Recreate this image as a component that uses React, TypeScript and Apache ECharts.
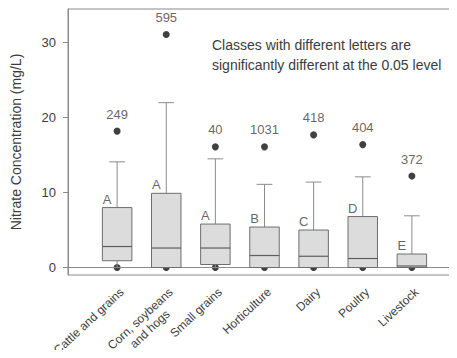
import { useEffect, useRef } from "react";
import * as echarts from "echarts";

// Land-use classes and their nitrate distribution summaries (mg/L)
const categories = [
  "Cattle and grains",
  "Corn, soybeans\nand hogs",
  "Small grains",
  "Horticulture",
  "Dairy",
  "Poultry",
  "Livestock",
];
const whiskerLow = [0, 0, 0, 0, 0, 0, 0];
const quartile1 = [0.9, 0, 0.4, 0, 0, 0, 0];
const medians = [2.8, 2.6, 2.6, 1.6, 1.5, 1.2, 0.2];
const quartile3 = [8.0, 9.9, 5.8, 5.4, 5.0, 6.8, 1.8];
const whiskerHigh = [14.1, 22.0, 14.5, 11.1, 11.4, 12.1, 6.9];
const highPoints = [18.2, 31.1, 16.1, 16.1, 17.7, 16.4, 12.2];
const lowPoints = [0, 0, 0, 0, 0, 0, 0];
const sampleCounts = [249, 595, 40, 1031, 418, 404, 372];
const groupLetters = ["A", "A", "A", "B", "C", "D", "E"];
const yTicks = [0, 10, 20, 30];

const FONT = "Liberation Sans, Arial, sans-serif";
const TEXT = "#3c3c3c";
const LINE = "#8a8a8a";

export default function App() {
  const ref = useRef<HTMLDivElement>(null);

  useEffect(() => {
    if (!ref.current) return;
    const chart = echarts.init(ref.current, null, { renderer: "svg" });

    // empty slots on each side give the plot its side margins
    const axisCats = ["", ...categories, ""];
    const pos = (i: number) => i + 1;

    const boxData = categories.map((_, i) => [
      pos(i),
      whiskerLow[i],
      quartile1[i],
      medians[i],
      quartile3[i],
      whiskerHigh[i],
    ]);

    chart.setOption({
      animation: false,
      textStyle: { fontFamily: FONT },
      grid: {
        left: 68,
        right: -4,
        top: 9,
        bottom: 83,
        outerBoundsMode: "none",
        containLabel: false,
        show: true,
        borderColor: LINE,
        borderWidth: 1,
        backgroundColor: "transparent",
      },
      xAxis: {
        type: "category",
        data: axisCats,
        boundaryGap: false,
        axisLine: { show: true, lineStyle: { color: LINE, width: 1 } },
        axisTick: { show: false },
        splitLine: { show: false },
        axisLabel: {
          interval: 0,
          rotate: 43,
          margin: 10,
          verticalAlign: "top",
          fontSize: 12,
          color: TEXT,
          fontFamily: FONT,
          lineHeight: 14,
          // multi-line names are centred line by line
          formatter: (v: string) =>
            v ? v.split("\n").map((s) => `{c|${s}}`).join("\n") : "",
          rich: {
            c: {
              align: "center",
              fontSize: 12,
              lineHeight: 14,
              color: TEXT,
              fontFamily: FONT,
            },
          },
        },
      },
      yAxis: {
        type: "value",
        min: -1,
        max: 34.5,
        name: "Nitrate Concentration (mg/L)",
        nameLocation: "middle",
        nameGap: 45,
        nameMoveOverlap: false,
        nameTextStyle: { fontSize: 14, color: TEXT, fontFamily: FONT },
        axisLine: { show: true, lineStyle: { color: LINE, width: 1 } },
        axisTick: {
          show: true,
          length: 5,
          customValues: yTicks,
          lineStyle: { color: LINE },
        },
        axisLabel: {
          customValues: yTicks,
          margin: 12,
          fontSize: 13,
          color: TEXT,
          fontFamily: FONT,
        },
        splitLine: { show: false },
      },
      series: [
        {
          // low points sit beneath the boxes
          type: "scatter",
          z: 1,
          symbol: "circle",
          symbolSize: 7,
          itemStyle: { color: "#111" },
          data: lowPoints.map((v, i) => [pos(i), v]),
        },
        {
          type: "custom",
          z: 2,
          data: boxData,
          renderItem: (_params: any, api: any) => {
            const x = api.value(0);
            const lo = api.coord([x, api.value(1)]);
            const b = api.coord([x, api.value(2)]);
            const m = api.coord([x, api.value(3)]);
            const t = api.coord([x, api.value(4)]);
            const hi = api.coord([x, api.value(5)]);
            const band = api.size([1, 0])[0];
            const bw = band * 0.6;
            const cw = band * 0.32;
            const cx = lo[0];
            const whisker = { stroke: "#8c8c8c", lineWidth: 1 };
            return {
              type: "group",
              children: [
                { type: "line", shape: { x1: cx, y1: t[1], x2: cx, y2: hi[1] }, style: whisker },
                { type: "line", shape: { x1: cx - cw / 2, y1: hi[1], x2: cx + cw / 2, y2: hi[1] }, style: whisker },
                { type: "line", shape: { x1: cx, y1: lo[1], x2: cx, y2: b[1] }, style: whisker },
                { type: "line", shape: { x1: cx - cw / 2, y1: lo[1], x2: cx + cw / 2, y2: lo[1] }, style: whisker },
                {
                  type: "rect",
                  shape: { x: cx - bw / 2, y: t[1], width: bw, height: b[1] - t[1] },
                  style: { fill: "#dcdcdc", stroke: "#6e6e6e", lineWidth: 1 },
                },
                {
                  type: "line",
                  shape: { x1: cx - bw / 2, y1: m[1], x2: cx + bw / 2, y2: m[1] },
                  style: { stroke: "#5e5e5e", lineWidth: 1.2 },
                },
              ],
            };
          },
        },
        {
          // group letters above each box
          type: "scatter",
          z: 3,
          symbolSize: 0,
          data: quartile3.map((v, i) => [pos(i), v]),
          label: {
            show: true,
            position: "top",
            distance: 2,
            offset: [-10, 0],
            fontSize: 13,
            color: TEXT,
            fontFamily: FONT,
            formatter: (p: any) => groupLetters[p.dataIndex],
          },
        },
        {
          // high points with sample counts
          type: "scatter",
          z: 3,
          symbol: "circle",
          symbolSize: 7,
          itemStyle: { color: "#111" },
          data: highPoints.map((v, i) => [pos(i), v]),
          label: {
            show: true,
            position: "top",
            distance: 7,
            fontSize: 13,
            color: TEXT,
            fontFamily: FONT,
            formatter: (p: any) => String(sampleCounts[p.dataIndex]),
          },
        },
      ],
      graphic: [
        {
          type: "text",
          left: 212,
          top: 35,
          style: {
            text: "Classes with different letters are\nsignificantly different at the 0.05 level",
            font: `14px ${FONT}`,
            fill: TEXT,
            lineHeight: 20,
          },
        },
      ],
    });

    return () => chart.dispose();
  }, []);

  return <div ref={ref} style={{ width: 457, height: 358, margin: -8 }} />;
}
